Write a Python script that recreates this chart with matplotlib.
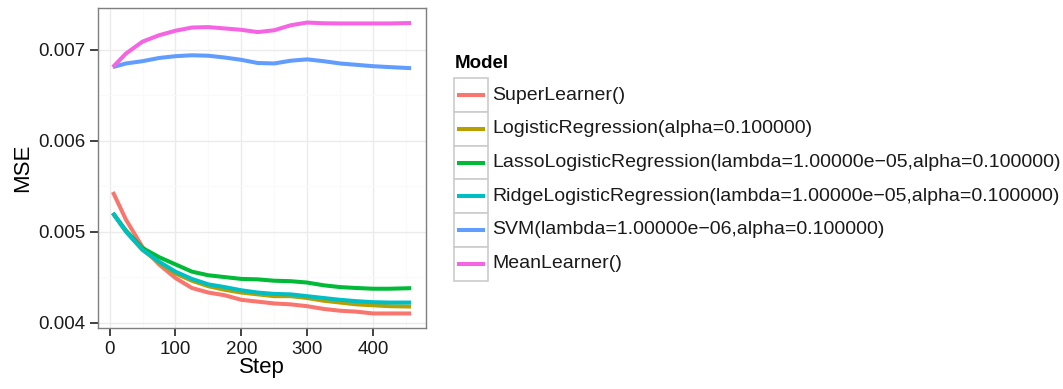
import matplotlib
matplotlib.use("Agg")
import matplotlib.pyplot as plt
from matplotlib.patches import Rectangle
from matplotlib.lines import Line2D

plt.rcParams['font.family'] = ['Liberation Sans', 'DejaVu Sans']

steps = [5, 25, 50, 75, 100, 125, 150, 175, 200, 225, 250, 275, 300, 325, 350, 375, 400, 425, 458]

models = [
    "SuperLearner()",
    "LogisticRegression(alpha=0.100000)",
    "LassoLogisticRegression(lambda=1.00000e\u221205,alpha=0.100000)",
    "RidgeLogisticRegression(lambda=1.00000e\u221205,alpha=0.100000)",
    "SVM(lambda=1.00000e\u221206,alpha=0.100000)",
    "MeanLearner()",
]
colors = ["#F8766D", "#B79F00", "#00BA38", "#00BFC4", "#619CFF", "#F564E3"]

super_mse = [0.005436, 0.00513, 0.00483, 0.00464, 0.00449, 0.00438, 0.00433, 0.0043, 0.00425, 0.00423,
             0.00421, 0.0042, 0.00418, 0.00415, 0.00413, 0.00412, 0.0041, 0.0041, 0.0041]
logistic_mse = [0.005204, 0.005, 0.0048, 0.00466, 0.00454, 0.00446, 0.0044, 0.00436, 0.00433, 0.00431,
                0.00429, 0.00429, 0.00427, 0.00424, 0.00422, 0.0042, 0.00419, 0.00418, 0.004176]
lasso_mse = [0.005204, 0.00501, 0.00482, 0.00472, 0.00464, 0.00456, 0.00452, 0.0045, 0.00448, 0.004475,
             0.00446, 0.004455, 0.00444, 0.00441, 0.00439, 0.00438, 0.004372, 0.004372, 0.004378]
ridge_mse = [0.005204, 0.005, 0.0048, 0.00467, 0.00456, 0.00448, 0.00442, 0.00439, 0.004355, 0.00433,
             0.004315, 0.00431, 0.00429, 0.00427, 0.00425, 0.004235, 0.004224, 0.00422, 0.00422]
svm_mse = [0.00681, 0.00685, 0.006875, 0.00691, 0.00693, 0.00694, 0.006935, 0.006915, 0.00689, 0.006855,
           0.00685, 0.00688, 0.006895, 0.006875, 0.00685, 0.006835, 0.00682, 0.00681, 0.006798]
mean_mse = [0.00681, 0.00696, 0.00709, 0.00716, 0.00721, 0.007245, 0.00725, 0.007235, 0.00722, 0.007195,
            0.007215, 0.00727, 0.0073, 0.007292, 0.00729, 0.00729, 0.00729, 0.00729, 0.007295]

series = [super_mse, logistic_mse, lasso_mse, ridge_mse, svm_mse, mean_mse]

W, H = 1063, 389
fig = plt.figure(figsize=(W / 100, H / 100), dpi=100)
ax = fig.add_axes([98 / W, 1 - 328 / H, (426 - 98) / W, (328 - 8) / H])

for vals, c, name in zip(series, colors, models):
    ax.plot(steps, vals, color=c, lw=2.9, label=name, solid_capstyle='butt', solid_joinstyle='round')

ax.set_xlim(-17.6, 480.6)
ax.set_ylim(0.00394, 0.00746)
ax.set_xticks([0, 100, 200, 300, 400])
ax.set_yticks([0.004, 0.005, 0.006, 0.007])
ax.set_yticklabels(["0.004", "0.005", "0.006", "0.007"])
ax.set_xticks([50, 150, 250, 350, 450], minor=True)
ax.set_yticks([0.0045, 0.0055, 0.0065], minor=True)
ax.grid(which='major', color='#EBEBEB', lw=1.0)
ax.grid(which='minor', color='#FAFAFA', lw=0.8)
ax.set_axisbelow(True)
for s in ax.spines.values():
    s.set_color('#7F7F7F')
    s.set_linewidth(1.0)
ax.tick_params(which='major', length=6, width=1.3, color='#333333', labelsize=13.5,
               labelcolor='#1a1a1a', pad=3)
ax.tick_params(which='minor', length=0)
ax.set_xlabel("Step", fontsize=16, labelpad=0)
ax.set_ylabel("MSE", fontsize=16, labelpad=4)

# legend drawn in pixel coordinates
lg = fig.add_axes([0, 0, 1, 1])
lg.set_xlim(0, W)
lg.set_ylim(H, 0)
lg.axis('off')
lg.text(455, 63, "Model", fontsize=13.5, fontweight='bold', va='center', ha='left')
row_h = 33.7
top = 78.3
for i, (c, name) in enumerate(zip(colors, models)):
    y0 = top + i * row_h
    lg.add_patch(Rectangle((454, y0), 34, row_h, facecolor='white', edgecolor='#CCCCCC', lw=1.2))
    yc = y0 + row_h / 2
    lg.add_line(Line2D([457, 485], [yc, yc], color=c, lw=2.9, solid_capstyle='butt'))
    lg.text(492.5, yc, name, fontsize=14, va='center', ha='left', color='#1a1a1a')

fig.savefig("out.png", dpi=100)
